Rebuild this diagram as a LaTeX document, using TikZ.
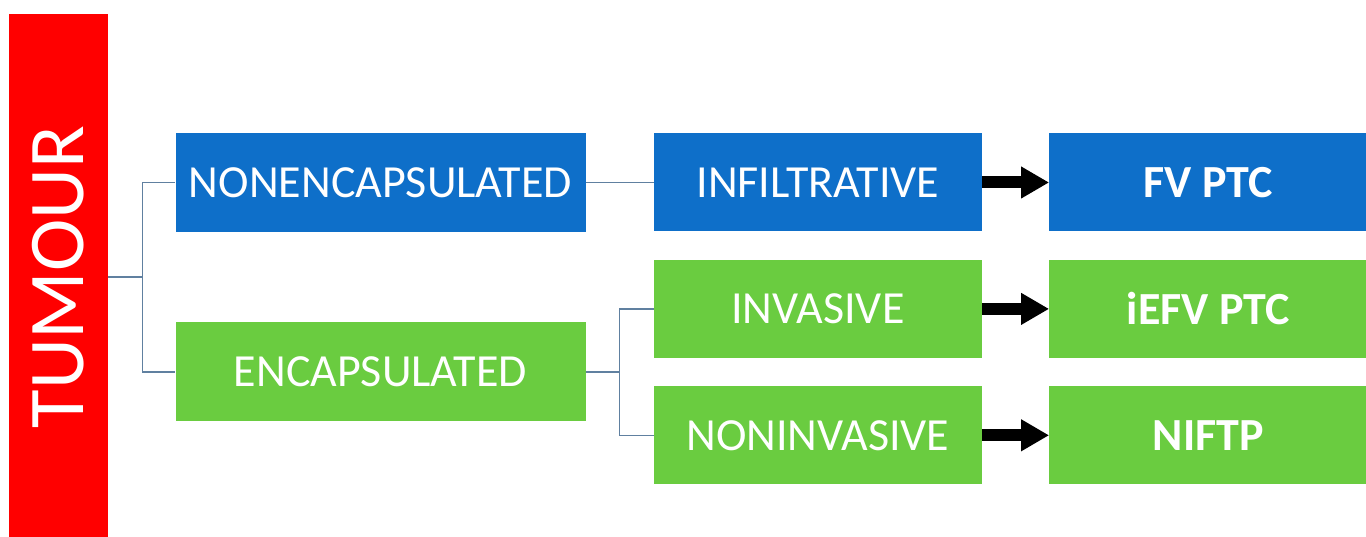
\documentclass[tikz,border=0pt]{standalone}
\usepackage{fontspec}
\setmainfont{Carlito}
\usepackage{tikz}
\usetikzlibrary{arrows.meta,positioning}
\definecolor{tumred}{RGB}{255,0,0}
\definecolor{boxblue}{RGB}{14,111,201}
\definecolor{boxgreen}{RGB}{106,204,64}
\definecolor{linkgray}{RGB}{96,128,160}

\begin{document}
\begin{tikzpicture}[x=1pt,y=1pt,
    box/.style={rectangle,inner sep=0pt,text=white,font=\fontsize{46}{50}\selectfont},
    blue box/.style={box,fill=boxblue},
    green box/.style={box,fill=boxgreen},
    left box/.style={minimum width=410pt,minimum height=99pt},
    mid box/.style={minimum width=328pt,minimum height=98pt},
    end box/.style={minimum width=318pt,minimum height=98pt,font=\fontsize{46}{50}\selectfont\bfseries},
    link/.style={draw=linkgray,line width=1.4pt},
    result/.style={line width=12pt,-{Triangle[length=28pt,width=30pt]}}]
  \useasboundingbox (0,0) rectangle (1366,536);

  \node[box,fill=tumred,rotate=90,minimum width=526pt,minimum height=99pt,
        font=\fontsize{79}{84}\selectfont] (tumour) at (58.5,259) {TUMOUR};

  \node[blue box,left box]   (nonenc) at (380.5,353.5) {NONENCAPSULATED};
  \node[green box,left box]  (enc)    [below=90pt of nonenc] {ENCAPSULATED};
  \node[blue box,mid box]    (infil)  [right=68pt of nonenc] {INFILTRATIVE};
  \node[green box,mid box]   (inv)    [below=28pt of infil]  {INVASIVE};
  \node[green box,mid box]   (noninv) [below=28pt of inv]    {NONINVASIVE};
  \node[blue box,end box]    (fvptc)  [right=67pt of infil]  {FV PTC};
  \node[green box,end box]   (iefv)   [right=67pt of inv]    {iEFV PTC};
  \node[green box,end box]   (niftp)  [right=67pt of noninv] {NIFTP};

  \draw[link] (tumour.south) -- ++(34,0) coordinate (fork) |- (nonenc.west);
  \draw[link] (fork) |- (enc.west);
  \draw[link] (nonenc.east) -- (infil.west);
  \draw[link] (enc.east) -- ++(34,0) coordinate (split) |- (inv.west);
  \draw[link] (split) |- (noninv.west);

  \draw[result] (infil.east)  -- (fvptc.west);
  \draw[result] (inv.east)    -- (iefv.west);
  \draw[result] (noninv.east) -- (niftp.west);
\end{tikzpicture}
\end{document}
